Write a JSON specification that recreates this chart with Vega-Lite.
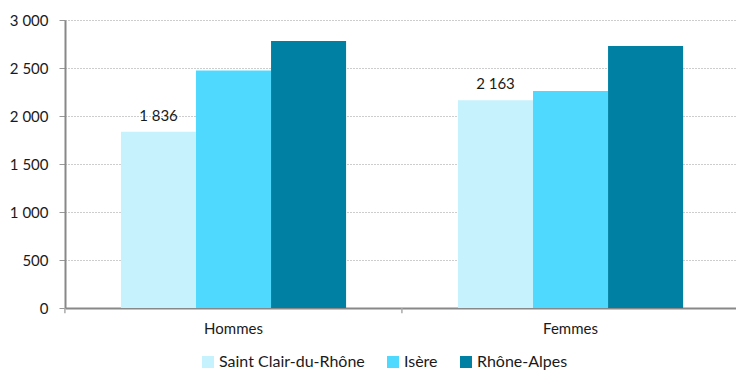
{
  "$schema": "https://vega.github.io/schema/vega-lite/v6.json",
  "width": 671,
  "height": 288,
  "autosize": {"type": "none"},
  "padding": {"left": 65, "top": 20, "right": 0, "bottom": 64},
  "background": "white",
  "config": {
    "locale": {
      "number": {"decimal": ",", "thousands": "\u00a0", "grouping": [3], "currency": ["", " €"]}
    },
    "font": "Lato",
    "view": {"stroke": null},
    "axis": {
      "labelFont": "Lato",
      "labelFontSize": 15,
      "labelColor": "#1a1a1a",
      "domainColor": "#888888",
      "domainWidth": 2,
      "tickColor": "#999999",
      "title": null
    },
    "legend": {"labelFont": "Lato", "labelFontSize": 16, "labelColor": "#1a1a1a"}
  },
  "data": {
    "values": [
      {"sexe": "Hommes", "zone": "Saint Clair-du-Rhône", "valeur": 1836},
      {"sexe": "Hommes", "zone": "Isère", "valeur": 2475},
      {"sexe": "Hommes", "zone": "Rhône-Alpes", "valeur": 2780},
      {"sexe": "Femmes", "zone": "Saint Clair-du-Rhône", "valeur": 2163},
      {"sexe": "Femmes", "zone": "Isère", "valeur": 2260},
      {"sexe": "Femmes", "zone": "Rhône-Alpes", "valeur": 2730}
    ]
  },
  "encoding": {
    "x": {
      "field": "sexe",
      "type": "nominal",
      "sort": ["Hommes", "Femmes"],
      "scale": {"paddingInner": 0.332, "paddingOuter": 0.1615, "align": 0.514},
      "axis": {"labelAngle": 0, "ticks": false, "labelPadding": 13, "domainColor": "#888888"}
    }
  },
  "layer": [
    {
      "mark": {"type": "bar"},
      "encoding": {
        "xOffset": {
          "field": "zone",
          "type": "nominal",
          "sort": ["Saint Clair-du-Rhône", "Isère", "Rhône-Alpes"],
          "scale": {"paddingInner": 0, "paddingOuter": 0}
        },
        "y": {
          "field": "valeur",
          "type": "quantitative",
          "scale": {"domain": [0, 3000], "nice": false},
          "axis": {
            "values": [0, 500, 1000, 1500, 2000, 2500, 3000],
            "format": ",d",
            "tickSize": 6,
            "labelPadding": 11,
            "grid": true,
            "gridColor": "#9a9a9a",
            "gridDash": [1, 2],
            "gridWidth": 1
          }
        },
        "color": {
          "field": "zone",
          "type": "nominal",
          "sort": ["Saint Clair-du-Rhône", "Isère", "Rhône-Alpes"],
          "scale": {
            "domain": ["Saint Clair-du-Rhône", "Isère", "Rhône-Alpes"],
            "range": ["#C6F2FE", "#50D9FF", "#0081A4"]
          },
          "legend": {
            "title": null,
            "orient": "none",
            "direction": "horizontal",
            "legendX": 135,
            "legendY": 334,
            "symbolType": "square",
            "symbolSize": 144,
            "symbolStrokeWidth": 0,
            "symbolOpacity": 1,
            "labelOffset": 3,
            "columnPadding": 20
          }
        }
      }
    },
    {
      "transform": [{"filter": "datum.zone === 'Saint Clair-du-Rhône'"}],
      "mark": {"type": "text", "baseline": "bottom", "dy": -8, "fontSize": 15, "color": "#1a1a1a", "font": "Lato"},
      "encoding": {
        "xOffset": {
          "field": "zone",
          "type": "nominal",
          "sort": ["Saint Clair-du-Rhône", "Isère", "Rhône-Alpes"],
          "scale": {"paddingInner": 0, "paddingOuter": 0}
        },
        "y": {"field": "valeur", "type": "quantitative"},
        "text": {"field": "valeur", "type": "quantitative", "format": ",d"}
      }
    },
    {
      "transform": [{"filter": "datum.zone === 'Saint Clair-du-Rhône'"}],
      "mark": {"type": "rule", "color": "#aaaaaa", "strokeWidth": 1.5},
      "encoding": {
        "x": {"field": "sexe", "type": "nominal", "sort": ["Hommes", "Femmes"], "bandPosition": -0.249},
        "y": {"datum": 0},
        "y2": {"datum": -55}
      }
    }
  ]
}
